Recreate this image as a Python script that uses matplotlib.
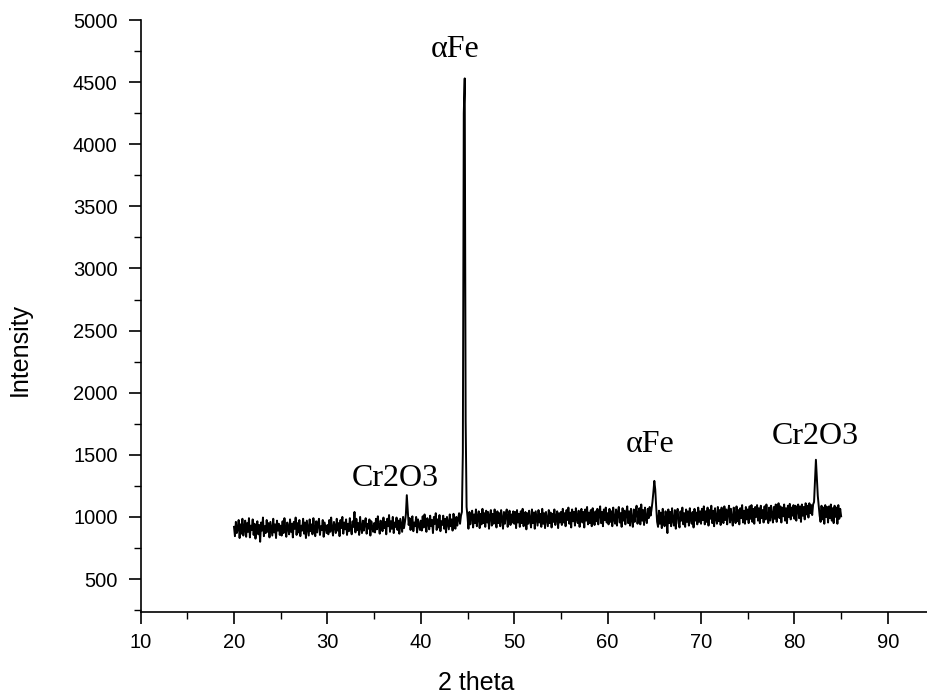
import numpy as np
import matplotlib
matplotlib.use("Agg")
import matplotlib.pyplot as plt
from matplotlib.ticker import MultipleLocator

# XRD scan, 0.1 deg step in 5-degree blocks
STEP = 0.1
seg_starts = [20, 25, 30, 35, 40, 45, 50, 55, 60, 65, 70, 75, 80]

seg_20 = [920, 845, 960, 870, 905, 975, 830, 940, 865, 985, 850, 915, 970, 840, 950, 880, 990, 835, 930, 895,
          980, 855, 945, 825, 910, 965, 860, 935, 800, 955, 890, 995, 845, 925, 870, 975, 880, 950, 835, 960,
          905, 850, 985, 875, 940, 830, 970, 890, 945, 855]
seg_25 = [930, 850, 965, 870, 990, 895, 840, 955, 915, 860, 980, 880, 945, 835, 960, 905, 995, 855, 950, 875,
          975, 845, 930, 890, 985, 865, 955, 830, 970, 910, 850, 980, 885, 940, 860, 990, 900, 845, 965, 875,
          950, 985, 855, 925, 895, 975, 840, 955, 910, 870]
seg_30 = [935, 860, 975, 880, 995, 905, 850, 960, 925, 870, 985, 890, 950, 845, 975, 910, 1000, 865, 955, 900,
          980, 855, 945, 885, 990, 905, 860, 965, 920, 1040, 875, 985, 895, 950, 855, 1000, 915, 870, 970, 890,
          955, 990, 865, 945, 905, 980, 850, 965, 915, 880]
seg_35 = [950, 875, 985, 900, 1005, 925, 865, 970, 940, 885, 995, 910, 960, 860, 985, 925, 1015, 880, 965, 905,
          1000, 870, 955, 920, 995, 895, 970, 865, 985, 930, 880, 1000, 910, 960, 1020, 1175, 1060, 935, 990, 895,
          970, 1005, 885, 955, 925, 1000, 875, 980, 935, 895]
seg_40 = [970, 890, 1005, 915, 1020, 935, 880, 990, 955, 900, 1010, 925, 975, 870, 1000, 945, 1030, 895, 980, 915,
          1015, 885, 965, 935, 1010, 905, 985, 875, 1000, 950, 900, 1020, 925, 980, 890, 1025, 950, 905, 1000, 930,
          985, 1030, 945, 1010, 1040, 1520, 4250, 4530, 1770, 1080]
seg_45 = [1000, 905, 1040, 940, 1010, 1050, 915, 1020, 950, 1060, 925, 995, 1045, 910, 1025, 940, 1065, 950, 1030, 920,
          1050, 955, 1040, 905, 1010, 1055, 930, 1025, 945, 1060, 980, 915, 1045, 950, 1030, 925, 1055, 985, 905, 1040,
          945, 1025, 1060, 920, 1000, 1050, 935, 1020, 955, 1045]
seg_50 = [945, 1040, 910, 1055, 955, 1025, 920, 1045, 950, 1065, 925, 1005, 1040, 900, 1030, 945, 1050, 975, 915, 1060,
          950, 1035, 905, 1045, 990, 930, 1055, 955, 1025, 920, 1065, 945, 1030, 910, 1040, 985, 925, 1055, 950, 1035,
          915, 1025, 960, 1060, 935, 1000, 1045, 910, 1030, 955]
seg_55 = [1040, 935, 1065, 955, 1030, 925, 1055, 975, 1075, 945, 1035, 915, 1060, 965, 1040, 930, 1070, 985, 950, 1050,
          920, 1030, 1065, 955, 1040, 915, 1060, 970, 1080, 940, 1035, 950, 1055, 925, 1070, 990, 935, 1045, 965, 1065,
          940, 1030, 1085, 950, 1040, 925, 1060, 975, 1075, 955]
seg_60 = [1030, 940, 1065, 960, 1045, 925, 1075, 980, 945, 1060, 930, 1040, 1080, 955, 1030, 920, 1070, 970, 1050, 940,
          1035, 1085, 950, 1045, 930, 1065, 980, 920, 1060, 960, 1040, 1090, 945, 1030, 1070, 940, 1100, 970, 1055, 935,
          1075, 985, 950, 1065, 990, 1080, 1010, 1060, 1120, 1200]
seg_65 = [1290, 1220, 1080, 960, 920, 1050, 945, 1035, 910, 1065, 960, 925, 1045, 985, 870, 1060, 950, 1040, 925, 1070,
          970, 930, 1055, 905, 1030, 1065, 950, 915, 1045, 970, 1075, 940, 1030, 920, 1060, 960, 1045, 930, 1070, 985,
          945, 1040, 915, 1065, 970, 1035, 940, 1075, 960, 1045]
seg_70 = [945, 1065, 975, 1085, 940, 1045, 960, 1075, 930, 1055, 985, 1090, 950, 1050, 925, 1070, 990, 945, 1080, 965,
          1055, 935, 1075, 995, 950, 1085, 975, 1060, 940, 1045, 1090, 955, 1065, 985, 930, 1075, 1000, 950, 1085, 965,
          1055, 940, 1070, 990, 1095, 955, 1050, 945, 1080, 980]
seg_75 = [1060, 950, 1085, 985, 1095, 960, 1065, 945, 1080, 1000, 1095, 970, 1070, 950, 1090, 990, 1055, 955, 1085, 980,
          1100, 1000, 950, 1075, 970, 1090, 1015, 955, 1080, 985, 1100, 960, 1065, 1110, 990, 1085, 955, 1075, 1005, 1100,
          970, 1070, 950, 1090, 1000, 1105, 980, 1075, 1010, 1095]
seg_80 = [985, 1090, 970, 1075, 1100, 990, 1085, 960, 1100, 1010, 1080, 980, 1110, 1020, 1090, 995, 1110, 1030, 1095, 1015,
          1100, 1120, 1290, 1460, 1320, 1170, 1090, 1010, 960, 1090, 980, 1075, 945, 1095, 1000, 1080, 955, 1085, 990, 1100,
          970, 1070, 950, 1090, 1000, 1075, 945, 1095, 985, 1065, 1005]

segments = [seg_20, seg_25, seg_30, seg_35, seg_40, seg_45, seg_50,
            seg_55, seg_60, seg_65, seg_70, seg_75, seg_80]

# peak labels: text, 2theta, intensity (text baseline)
peak_names = ["\u03b1Fe", "Cr2O3", "\u03b1Fe", "Cr2O3"]
peak_x = [43.7, 37.3, 64.5, 82.2]
peak_y = [4700, 1250, 1525, 1585]

x_ticks = [10, 20, 30, 40, 50, 60, 70, 80, 90]
y_ticks = [500, 1000, 1500, 2000, 2500, 3000, 3500, 4000, 4500, 5000]

two_theta = np.concatenate([s + STEP * np.arange(len(v)) for s, v in zip(seg_starts, segments)])
intensity = np.concatenate([np.asarray(v, float) for v in segments])

plt.rcParams["font.family"] = ["Liberation Sans", "DejaVu Sans"]

W, H = 928, 697
fig = plt.figure(figsize=(W / 100, H / 100), dpi=100)
left, right, bottom, top = 140.6, 928, 611.7, 20
ax = fig.add_axes([left / W, (H - bottom) / H, (right - left) / W, (bottom - top) / H])

ax.plot(two_theta, intensity, color="black", lw=1.4)

for name, px, py in zip(peak_names, peak_x, peak_y):
    ax.text(px, py, name, ha="center", va="baseline", fontsize=23,
            family=["Liberation Serif", "DejaVu Serif"])

ax.set_xlim(10, 94.3)
ax.set_ylim(237, 5000)
ax.set_xticks(x_ticks)
ax.set_yticks(y_ticks)
ax.xaxis.set_minor_locator(MultipleLocator(5))
ax.yaxis.set_minor_locator(MultipleLocator(250))
ax.tick_params(which="major", direction="out", length=8.6, width=1.2, labelsize=14.5)
ax.tick_params(axis="y", which="major", pad=8)
ax.tick_params(axis="x", which="major", pad=7)
ax.tick_params(which="minor", direction="out", length=5, width=1.0)
for side in ("top", "right"):
    ax.spines[side].set_visible(False)
for side in ("left", "bottom"):
    ax.spines[side].set_linewidth(1.2)

ax.set_xlabel("2 theta", fontsize=18)
ax.set_ylabel("Intensity", fontsize=18)
ax.xaxis.set_label_coords((476 - left) / (right - left), (bottom - 671) / (bottom - top))
ax.yaxis.set_label_coords((32 - left) / (right - left), (bottom - 350) / (bottom - top))

fig.savefig("out.png", dpi=100)
